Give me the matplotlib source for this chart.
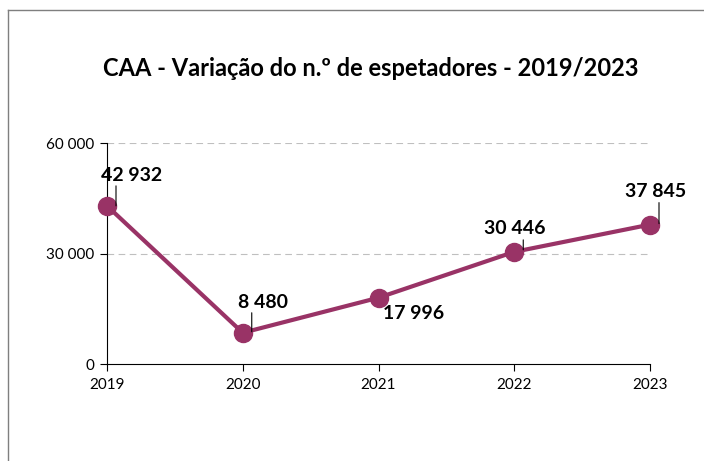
import matplotlib
matplotlib.use("Agg")
import matplotlib.pyplot as plt
from matplotlib.lines import Line2D
from matplotlib.transforms import offset_copy
from matplotlib.ticker import FuncFormatter

# Data
years = ["2019", "2020", "2021", "2022", "2023"]
spectators = [42932, 8480, 17996, 30446, 37845]
y_ticks = [0, 30000, 60000]

plt.rcParams["font.family"] = ["Lato", "DejaVu Sans"]

color = "#993366"

fig = plt.figure(figsize=(7.04, 4.61), dpi=100)
ax = fig.add_axes([107 / 704, 1 - 364 / 461, 543 / 704, 221 / 461])

x = list(range(len(years)))
ax.plot(x, spectators, color=color, lw=3, marker="o", markersize=13,
        zorder=3, clip_on=False)

ax.set_xlim(0, len(years) - 1)
ax.set_ylim(0, 60000)
ax.set_xticks(x)
ax.set_xticklabels(years)
ax.set_yticks(y_ticks)
ax.yaxis.set_major_formatter(FuncFormatter(lambda v, p: f"{int(v):,}".replace(",", " ")))
ax.tick_params(axis="both", labelsize=11, length=5, width=0.8, color="black")
ax.tick_params(axis="x", pad=5)
ax.tick_params(axis="y", pad=4)

for s in ["top", "right"]:
    ax.spines[s].set_visible(False)
for s in ["left", "bottom"]:
    ax.spines[s].set_linewidth(0.8)

for v in y_ticks[1:]:
    ax.axhline(v, color="#bfbfbf", lw=0.8, ls=(0, (6, 4)), zorder=1)

# label offsets (pixels) and leader lines
label_off = [(25, 30), (20, 30), (35, -16), (1, 23), (6, 33)]
leaders = [(9, 20, 0), (9, 20, 1), None, (9, 12, 2), (9, 22, 1)]

for i, v in enumerate(spectators):
    txt = f"{v:,}".replace(",", " ")
    ax.annotate(txt, xy=(i, v), xytext=label_off[i], textcoords="offset pixels",
                ha="center", va="center", fontsize=14, fontweight="bold",
                annotation_clip=False)
    if leaders[i] is not None:
        dx, top, bot = leaders[i]
        t_top = offset_copy(ax.transData, fig=fig, x=dx, y=top, units="dots")
        t_bot = offset_copy(ax.transData, fig=fig, x=dx, y=bot, units="dots")
        ax.annotate("", xy=(i, v), xycoords=t_bot, xytext=(i, v), textcoords=t_top,
                    arrowprops=dict(arrowstyle="-", color="black", lw=0.8,
                                    shrinkA=0, shrinkB=0), annotation_clip=False)

fig.text(371 / 704, 1 - 68 / 461, "CAA - Variação do n.º de espetadores - 2019/2023",
         ha="center", va="center", fontsize=17, fontweight="bold")

# chart border
fig.add_artist(Line2D([8 / 704, 8 / 704], [0, 1 - 10 / 461], color="#7f7f7f", lw=1))
fig.add_artist(Line2D([8 / 704, 1], [1 - 10 / 461, 1 - 10 / 461], color="#7f7f7f", lw=1))

fig.savefig("out.png", dpi=100)
